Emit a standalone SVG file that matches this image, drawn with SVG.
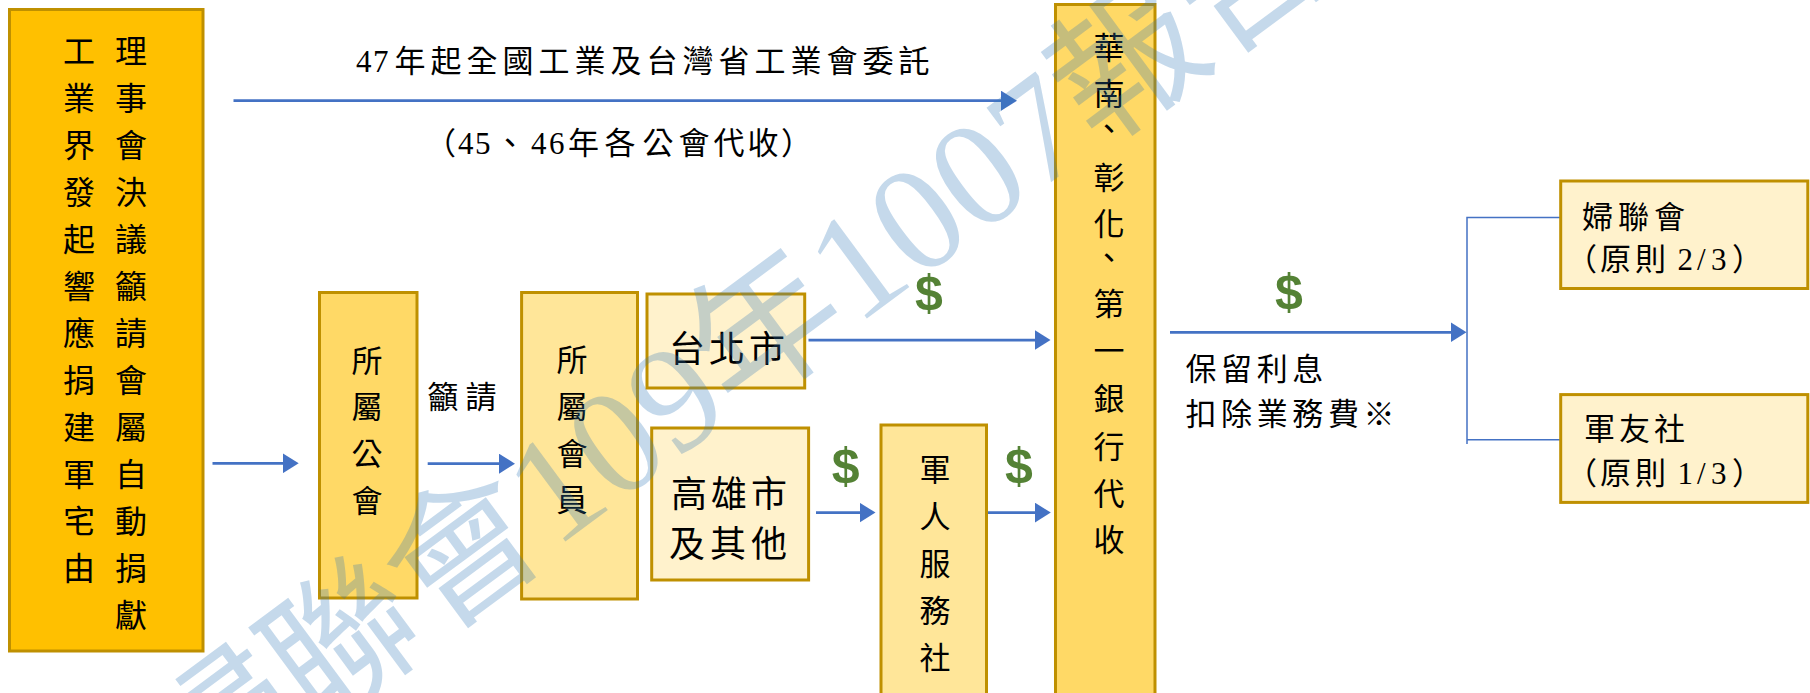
<svg xmlns="http://www.w3.org/2000/svg" width="1810" height="693" viewBox="0 0 1810 693">
<defs>
<marker id="ah" viewBox="0 0 16 20" refX="12" refY="10" markerWidth="16" markerHeight="20" markerUnits="userSpaceOnUse" orient="auto">
<path d="M0,0 L16,10 L0,20 z" fill="#4472C4"/>
</marker>
<style>
.box{stroke:#BF9000;stroke-width:3}
.c1{fill:#FFC000}.c2{fill:#FFD966}.c3{fill:#FFE699}.c4{fill:#FFF2CC}
.t{font-family:"Liberation Serif","Noto Sans CJK TC",serif;fill:#000}
.f32{font-size:32px}.f31{font-size:31px}.f36{font-size:36px}
.mid{text-anchor:middle}
.conn{stroke:#4472C4;stroke-width:2.75;fill:none}
.thin{stroke:#4472C4;stroke-width:1.5;fill:none}
.dollar{font-family:"Liberation Sans",Arial,sans-serif;font-weight:bold;font-size:50px;fill:#548235;text-anchor:middle}
.wm{font-family:"Liberation Serif","Noto Sans CJK TC",serif;font-size:150px;fill:#2E75B6;fill-opacity:0.28}
</style>
</defs>
<rect width="1810" height="693" fill="#FFFFFF"/>

<g id="connectors">
<path class="conn" d="M233.5,100.7 H1013" marker-end="url(#ah)"/>
<path class="conn" d="M212.5,463.3 H294.7" marker-end="url(#ah)"/>
<path class="conn" d="M427.7,463.7 H511" marker-end="url(#ah)"/>
<path class="conn" d="M808.5,340 H1046.5" marker-end="url(#ah)"/>
<path class="conn" d="M816,512.6 H871.5" marker-end="url(#ah)"/>
<path class="conn" d="M987,512.6 H1046.8" marker-end="url(#ah)"/>
<path class="conn" d="M1170,332.3 H1462.5" marker-end="url(#ah)"/>
<path class="thin" d="M1560,217.4 H1467 V444 M1467,439.7 H1560"/>
</g>

<g id="label-top">
<text class="t f31" x="356 373 394.5 430.5 466.5 502.5 538.5 574.5 610.5 646.5 682.5 718.5 754.5 790.5 826.5 862.5 898.5" y="71.5">47年起全國工業及台灣省工業會委託</text>
<text class="t f31" x="425 458 475 494.5 531 549 568 604.5 642.5 678.5 713.5 747.5 781" y="153.5">（45、46年各公會代收）</text>
</g>

<g id="node-donors">
<rect class="box c1" x="9.5" y="9.5" width="193.5" height="641.5"/>
<text class="t f32 mid" x="79 79 79 79 79 79 79 79 79 79 79 79" y="63 110 157 204 251 298 345 392 439 486 533 580">工業界發起響應捐建軍宅由</text>
<text class="t f32 mid" x="131 131 131 131 131 131 131 131 131 131 131 131 131" y="63 110 157 204 251 298 345 392 439 486 533 580 627">理事會決議籲請會屬自動捐獻</text>
</g>

<g id="node-guild">
<rect class="box c2" x="319.5" y="292.5" width="97.5" height="305.5"/>
<text class="t f31 mid" x="367 367 367 367" y="371.5 418 464.5 511.5">所屬公會</text>
</g>

<g id="label-appeal">
<text class="t f31" x="427.5 465.5" y="408">籲請</text>
</g>

<g id="node-members">
<rect class="box c3" x="521.6" y="292.5" width="115.9" height="306.5"/>
<text class="t f31 mid" x="572 572 572 572" y="370.5 417.5 464.5 511">所屬會員</text>
</g>

<g id="node-taipei">
<rect class="box c4" x="647" y="294" width="157.7" height="94"/>
<text class="t f36" x="669 709 749" y="361.5">台北市</text>
</g>

<g id="node-kaohsiung">
<rect class="box c4" x="651.7" y="428" width="156.9" height="152"/>
<text class="t f36" x="671 711 751" y="506.5">高雄市</text>
<text class="t f36" x="669 710 751" y="556.5">及其他</text>
</g>

<g id="node-service">
<rect class="box c3" x="881" y="425" width="105.5" height="300"/>
<text class="t f31 mid" x="935 935 935 935 935" y="480.5 527.5 574.5 621.5 668.5">軍人服務社</text>
</g>

<g id="node-bank">
<rect class="box c2" x="1055.5" y="4.5" width="99.5" height="720"/>
<text class="t f31 mid" x="1109 1109 1109 1109 1109 1109 1109 1109 1109 1109 1109 1109" y="58.5 105 139.5 188.5 234.5 268.5 314.5 361.5 409.5 457.5 504.5 550.5">華南、彰化、第一銀行代收</text>
</g>

<g id="dollars">
<text class="dollar" x="929" y="310">$</text>
<text class="dollar" x="845.7" y="482.5">$</text>
<text class="dollar" x="1019" y="482.5">$</text>
<text class="dollar" x="1289" y="308.5">$</text>
</g>

<g id="label-interest">
<text class="t f31" x="1185.5 1221.1 1256.7 1292.3" y="379.5">保留利息</text>
<text class="t f31" x="1185.5 1221.1 1256.7 1292.3 1327.9 1363.5" y="424.5">扣除業務費※</text>
</g>

<g id="node-women">
<rect class="box c4" x="1560.7" y="181" width="247.1" height="107.5"/>
<text class="t f31" x="1582 1618 1654" y="228">婦聯會</text>
<text class="t f31" x="1566 1600 1635 1677.5 1697 1711 1732" y="270">（原則2/3）</text>
</g>

<g id="node-veterans">
<rect class="box c4" x="1560.7" y="394.6" width="247.1" height="107.8"/>
<text class="t f31" x="1584 1619 1654" y="440">軍友社</text>
<text class="t f31" x="1566 1600 1635 1677.5 1697 1711 1732" y="483.5">（原則1/3）</text>
</g>

<g id="watermark">
<text class="wm" transform="translate(193,817) rotate(-36.5)">婦聯會109年1007報告</text>
</g>
</svg>
